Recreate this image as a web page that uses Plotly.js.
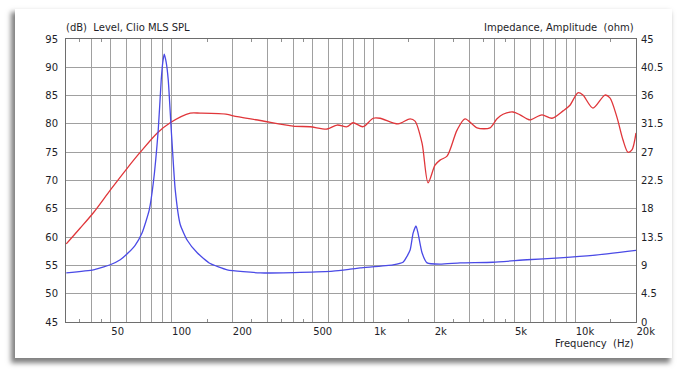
<!DOCTYPE html>
<html>
<head>
<meta charset="utf-8">
<script src="https://cdn.plot.ly/plotly-3.0.1.min.js"></script>
<style>
  html, body { margin:0; padding:0; background:#ffffff; width:684px; height:376px; overflow:hidden; }
  #panel { position:absolute; left:15px; top:9px; width:657px; height:349px; background:#ffffff;
           box-shadow:-3px 4px 5px 1px rgba(0,0,0,0.5); }
  #chart { position:absolute; left:0; top:0; width:684px; height:376px; }
</style>
</head>
<body>
<div id="panel"></div>
<div id="chart"></div>
<script>
// SPL (dB) - red curve
const splFreq = [30.1, 35.3, 41.0, 49.7, 60.4, 70.0, 85.0, 98.5, 123.8, 138.7, 188.7, 202, 275, 400, 486, 590, 661, 741, 793, 889, 997, 1079, 1325, 1519, 1608, 1742, 1866, 2020, 2139, 2317, 2597, 2844, 3262, 3782, 4097, 4387, 4917, 5325, 5767, 5969, 6843, 7667, 8697, 9415, 10313, 10918, 12234, 14030, 14851, 16087, 17230, 18237, 19094, 20000];
const splDb = [58.8, 61.6, 64.3, 68.3, 72.2, 75.0, 78.4, 80.2, 81.9, 81.9, 81.7, 81.4, 80.6, 79.6, 79.5, 79.1, 79.8, 79.5, 80.2, 79.5, 81.0, 81.0, 80.0, 80.9, 80.5, 76.6, 69.6, 72.7, 73.6, 74.3, 78.9, 80.9, 79.3, 79.3, 80.9, 81.7, 82.1, 81.6, 80.9, 80.7, 81.6, 81.0, 82.3, 83.3, 85.5, 85.1, 82.8, 85.1, 84.6, 81.2, 77.2, 75.0, 75.4, 78.4];

// Impedance (ohm) - blue curve
const impFreq = [30.1, 41, 44.4, 49.7, 55.7, 61.0, 66.0, 71.5, 77.5, 81.2, 85.9, 88.9, 90.5, 92.0, 94.1, 96.3, 99.7, 104.3, 110.4, 119.6, 134, 155.5, 188.7, 275, 433, 631, 766, 859, 1251, 1402, 1519, 1572, 1627, 1665, 1742, 1845, 2139, 2690, 3914, 5767, 8394, 12234, 20000];
const impOhm = [7.8, 8.3, 8.6, 9.1, 9.9, 11.0, 12.2, 14.2, 17.8, 22.1, 30.5, 38.5, 41.3, 42.6, 41.3, 38.5, 30.5, 21.0, 15.5, 13.0, 11.0, 9.3, 8.3, 7.8, 7.9, 8.1, 8.4, 8.6, 9.1, 9.5, 11.4, 14.1, 15.3, 14.1, 11.0, 9.4, 9.2, 9.4, 9.5, 9.9, 10.2, 10.6, 11.4];

// Axis ticks
const xGridVals = [40,50,60,70,80,90,100,200,300,400,500,600,700,800,900,1000,2000,3000,4000,5000,6000,7000,8000,9000,10000,20000];
const xLabeled = {50:'50',100:'100',200:'200',500:'500',1000:'1k',2000:'2k',5000:'5k',10000:'10k',20000:'20k'};
const xGridText = xGridVals.map(v => xLabeled[v] || '');
const xSmallTicks = [35,45,150,250,350,450,1500,2500,3500,4500,15000];
const yLeftTicks = [45,50,55,60,65,70,75,80,85,90,95];
const yRightTicks = [0,4.5,9,13.5,18,22.5,27,31.5,36,40.5,45];
const yRightText = ['0','4.5','9','13.5','18','22.5','27','31.5','36','40.5','45'];

const FONT = "'DejaVu Sans', Verdana, sans-serif";
const TXT = '#1e1e28';

const traces = [
  { x: splFreq, y: splDb, type:'scatter', mode:'lines', yaxis:'y',
    line:{color:'#e0363a', width:1.3, shape:'spline', smoothing:0.8}, hoverinfo:'skip' },
  { x: impFreq, y: impOhm, type:'scatter', mode:'lines', yaxis:'y2',
    line:{color:'#4a4ae6', width:1.3, shape:'spline', smoothing:0.5}, hoverinfo:'skip' }
];

const layout = {
  width:684, height:376,
  margin:{l:66, r:48, t:39, b:54},
  paper_bgcolor:'rgba(0,0,0,0)', plot_bgcolor:'#ffffff',
  showlegend:false,
  font:{family:FONT, size:10, color:TXT},
  xaxis:{ type:'log', range:[Math.log10(30), Math.log10(20000)],
    tickmode:'array', tickvals:xGridVals, ticktext:xGridText,
    ticklabelposition:'outside right',
    showgrid:true, gridcolor:'#a0a0a0', gridwidth:1,
    showline:true, mirror:'ticks', linecolor:'#6e6e6e', linewidth:1,
    ticks:'', zeroline:false, tickfont:{family:FONT, size:10, color:TXT},
    minor:{ tickmode:'array', tickvals:xSmallTicks, ticks:'inside', ticklen:3,
            tickwidth:1, tickcolor:'#909090', showgrid:false } },
  yaxis:{ range:[45,95], tickmode:'array', tickvals:yLeftTicks,
    showgrid:true, gridcolor:'#a0a0a0', gridwidth:1,
    showline:true, mirror:true, linecolor:'#6e6e6e', linewidth:1,
    ticklabelstandoff:5,
    ticks:'', zeroline:false, tickfont:{family:FONT, size:10, color:TXT} },
  yaxis2:{ range:[0,45], overlaying:'y', side:'right', tickmode:'array',
    tickvals:yRightTicks, ticktext:yRightText, showgrid:false, zeroline:false,
    ticklabelstandoff:4,
    ticks:'', showline:false, tickfont:{family:FONT, size:10, color:TXT} },
  annotations:[
    { text:'(dB)  Level, Clio MLS SPL', xref:'paper', yref:'paper', x:0, y:1,
      xanchor:'left', yanchor:'bottom', yshift:4, xshift:-2, showarrow:false,
      font:{family:FONT, size:10, color:TXT} },
    { text:'Impedance, Amplitude  (ohm)', xref:'paper', yref:'paper', x:1, y:1,
      xanchor:'right', yanchor:'bottom', yshift:4, showarrow:false,
      font:{family:FONT, size:10, color:TXT} },
    { text:'Frequency  (Hz)', xref:'paper', yref:'paper', x:1, y:0,
      xanchor:'right', yanchor:'top', yshift:-14, showarrow:false,
      font:{family:FONT, size:10, color:TXT} }
  ]
};

Plotly.newPlot('chart', traces, layout, {staticPlot:true, displayModeBar:false});
</script>
</body>
</html>
